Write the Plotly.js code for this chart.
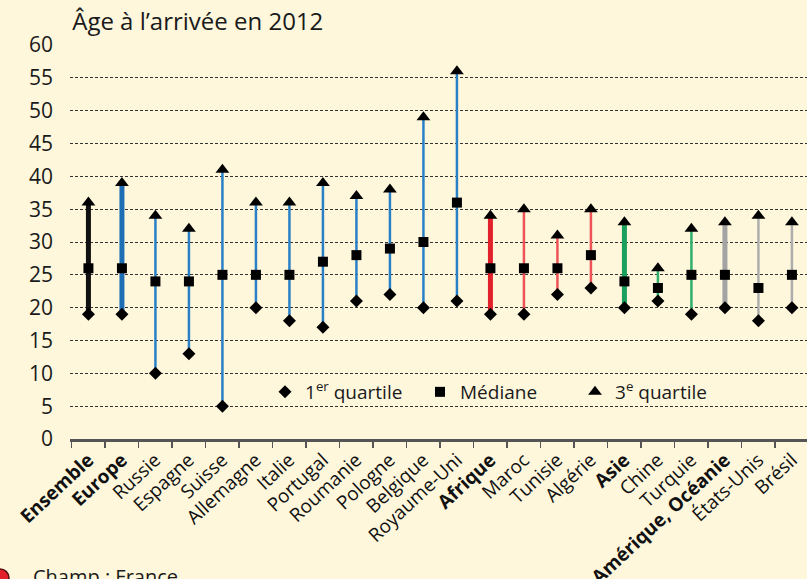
<!DOCTYPE html>
<html>
<head>
<meta charset="utf-8">
<script src="https://cdn.plot.ly/plotly-3.0.1.min.js"></script>
<style>
  html, body { margin: 0; padding: 0; background: #FEF7DC; }
  #chart { width: 807px; height: 579px; }
</style>
</head>
<body>
<div id="chart"></div>
<script>
// ---- Data ----
const categories = ["Ensemble", "Europe", "Russie", "Espagne", "Suisse", "Allemagne", "Italie", "Portugal",
  "Roumanie", "Pologne", "Belgique", "Royaume-Uni", "Afrique", "Maroc", "Tunisie", "Algérie",
  "Asie", "Chine", "Turquie", "Amérique, Océanie", "États-Unis", "Brésil"];
const q1     = [19, 19, 10, 13,  5, 20, 18, 17, 21, 22, 20, 21, 19, 19, 22, 23, 20, 21, 19, 20, 18, 20];
const median = [26, 26, 24, 24, 25, 25, 25, 27, 28, 29, 30, 36, 26, 26, 26, 28, 24, 23, 25, 25, 23, 25];
const q3     = [36, 39, 34, 32, 41, 36, 36, 39, 37, 38, 49, 56, 34, 35, 31, 35, 33, 26, 32, 33, 34, 33];
// group of each category: "all", "europe", "afrique", "asie", "amerique"
const groups = ["all", "europe", "europe", "europe", "europe", "europe", "europe", "europe",
  "europe", "europe", "europe", "europe", "afrique", "afrique", "afrique", "afrique",
  "asie", "asie", "asie", "amerique", "amerique", "amerique"];
// aggregate rows (drawn bold / thick)
const aggregates = ["Ensemble", "Europe", "Afrique", "Asie", "Amérique, Océanie"];
const legendNames = ["1<sup>er</sup> quartile", "Médiane", "3<sup>e</sup> quartile"];
const yTitle = "Âge à l’arrivée en 2012";
const footnote = "Champ : France";

// ---- Styles ----
const groupColor = {
  all:      { thick: "#111111", thin: "#111111" },
  europe:   { thick: "#1E6EB6", thin: "#2A80C6" },
  afrique:  { thick: "#E3212B", thin: "#EE5357" },
  asie:     { thick: "#1A9F5C", thin: "#2FB06D" },
  amerique: { thick: "#A3A3A3", thin: "#ADADAD" }
};
const FONT = "Open Sans, Noto Sans, sans-serif";

const traces = [];
categories.forEach((c, i) => {
  const isAgg = aggregates.includes(c);
  const col = groupColor[groups[i]];
  traces.push({
    type: "scatter", mode: "lines",
    x: [c, c], y: [q1[i], q3[i]],
    line: { color: isAgg ? col.thick : col.thin, width: isAgg ? 5 : 2.5 },
    showlegend: false, hoverinfo: "skip"
  });
});
traces.push({
  type: "scatter", mode: "markers", name: legendNames[0],
  x: categories, y: q1,
  marker: { symbol: "diamond", size: 10, color: "#000" }
});
traces.push({
  type: "scatter", mode: "markers", name: legendNames[1],
  x: categories, y: median,
  marker: { symbol: "square", size: 10, color: "#000" }
});
traces.push({
  type: "scatter", mode: "markers", name: legendNames[2],
  x: categories, y: q3,
  marker: { symbol: "triangle-up", size: 12, color: "#000" }
});

const tickText = categories.map(c => aggregates.includes(c) ? "<b>" + c + "</b>" : c);

const W = 807, H = 579, L = 70, R = 0, T = 45, B = 140;
const pw = W - L - R, ph = H - T - B;
const px = x => (x - L) / pw;
const py = y => (H - B - y) / ph;

const layout = {
  width: W, height: H,
  margin: { l: L, r: R, t: T, b: B, pad: 0 },
  paper_bgcolor: "#FEF7DC",
  plot_bgcolor: "#FEF7DC",
  font: { family: FONT, color: "#1a1a1a" },
  title: {
    text: yTitle,
    font: { family: FONT, size: 24, color: "#1a1a1a" },
    xref: "paper", x: 0.003, xanchor: "left",
    yref: "container", y: 1 - 22 / H, yanchor: "middle"
  },
  xaxis: {
    type: "category",
    range: [-0.55, 21.45],
    tickmode: "array", tickvals: categories, ticktext: tickText,
    tickson: "boundaries",
    ticks: "outside", ticklen: 6, tickwidth: 1.5, tickcolor: "#555",
    showline: true, linecolor: "#555", linewidth: 2.5,
    showgrid: false, zeroline: false,
    tickangle: -43,
    tickfont: { family: FONT, size: 19, color: "#111" },
    fixedrange: true
  },
  yaxis: {
    range: [0, 60], dtick: 5, tick0: 0,
    showline: false, zeroline: false,
    showgrid: true, gridcolor: "#333", gridwidth: 1, griddash: "3px,2px",
    ticks: "", ticklabelstandoff: 16,
    tickfont: { family: FONT, size: 21, color: "#1a1a1a" },
    fixedrange: true
  },
  showlegend: true,
  legend: {
    orientation: "h",
    x: px(265), xanchor: "left",
    y: py(392), yanchor: "middle",
    bgcolor: "rgba(0,0,0,0)",
    font: { family: FONT, size: 19, color: "#1a1a1a" },
    itemwidth: 30,
    entrywidth: 110,
    traceorder: "normal"
  },
  annotations: [{
    text: footnote, showarrow: false,
    xref: "paper", yref: "paper",
    x: px(31), xanchor: "left",
    y: py(576), yanchor: "middle",
    font: { family: FONT, size: 20, color: "#1a1a1a" }
  }],
  shapes: [{
    type: "circle", xref: "paper", yref: "paper",
    x0: px(-9), x1: px(9), y0: py(587), y1: py(569),
    fillcolor: "#E3212B", line: { color: "#5a1010", width: 1.5 }
  }]
};

Plotly.newPlot("chart", traces, layout, { displayModeBar: false, staticPlot: true });
</script>
</body>
</html>
